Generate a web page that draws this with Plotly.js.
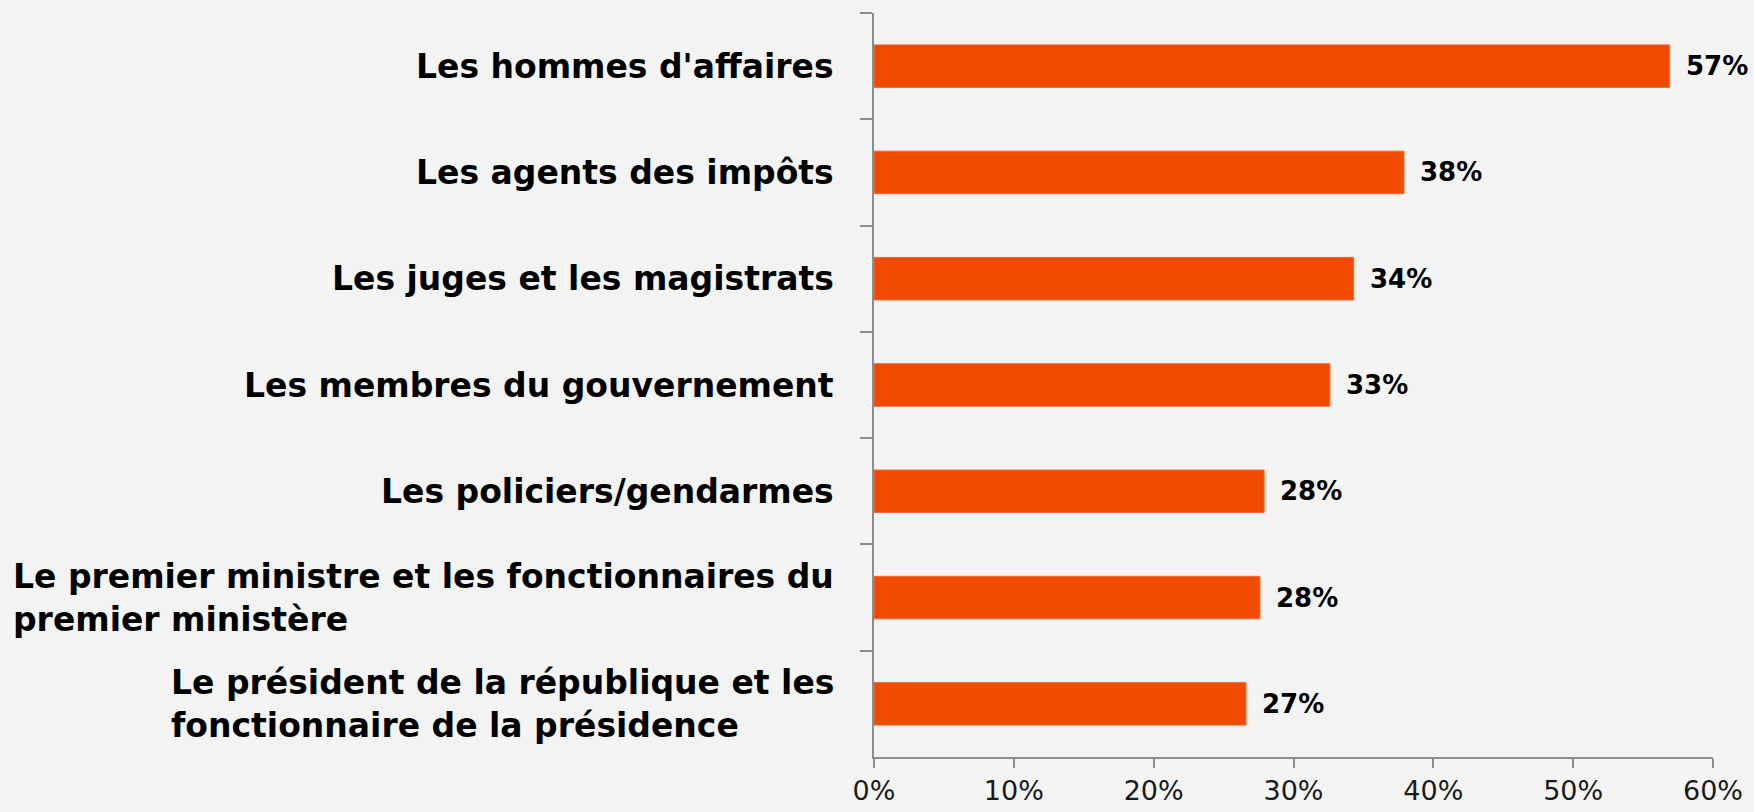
<!DOCTYPE html>
<html>
<head>
<meta charset="utf-8">
<script src="https://cdn.plot.ly/plotly-3.0.1.min.js"></script>
<style>
  html, body { margin: 0; padding: 0; background: #f3f3f3; }
  #chart { width: 1754px; height: 812px; }
</style>
</head>
<body>
<div id="chart"></div>
<script>
// Categories (top to bottom)
const categories = [
  "Les hommes d'affaires",
  "Les agents des impôts",
  "Les juges et les magistrats",
  "Les membres du gouvernement",
  "Les policiers/gendarmes",
  "Le premier ministre et les fonctionnaires du<br>premier ministère",
  "Le président de la république et les<br>fonctionnaire de la présidence"
];
// Values (share, 0-1)
const values = [0.569, 0.379, 0.343, 0.326, 0.279, 0.276, 0.266];
const valueLabels = ["57%", "38%", "34%", "33%", "28%", "28%", "27%"];
const xTickVals = [0, 0.1, 0.2, 0.3, 0.4, 0.5, 0.6];
const xTickText = ["0%", "10%", "20%", "30%", "40%", "50%", "60%"];

const catKeys = categories.map((c, i) => "c" + i);

const trace = {
  type: "bar",
  orientation: "h",
  x: values,
  y: catKeys,
  marker: { color: "#ef4a00", line: { color: "#f26a33", width: 1 } },
  hoverinfo: "skip"
};

const annotations = [];
categories.forEach((c, i) => {
  annotations.push({
    xref: "paper", yref: "y",
    x: 0, y: catKeys[i],
    xanchor: "right", yanchor: "middle",
    xshift: -38,
    align: "left",
    showarrow: false,
    text: "<b>" + c.replace("<br>", "</b><br><b>") + "</b>",
    font: { family: "DejaVu Sans", size: 33, color: "#000000" }
  });
  annotations.push({
    xref: "x", yref: "y",
    x: values[i], y: catKeys[i],
    xanchor: "left", yanchor: "middle",
    xshift: 14,
    showarrow: false,
    text: "<b>" + valueLabels[i] + "</b>",
    font: { family: "DejaVu Sans", size: 26, color: "#000000" }
  });
});

const layout = {
  width: 1754,
  height: 812,
  paper_bgcolor: "#f3f3f3",
  plot_bgcolor: "rgba(0,0,0,0)",
  margin: { l: 874, r: 41, t: 13, b: 55 },
  showlegend: false,
  bargap: 0.6,
  xaxis: {
    range: [0, 0.6],
    tickvals: xTickVals,
    ticktext: xTickText,
    showgrid: false,
    zeroline: false,
    showline: true,
    linecolor: "#8c8c8c",
    linewidth: 2,
    ticks: "outside",
    ticklen: 9,
    tickwidth: 2,
    tickcolor: "#8c8c8c",
    ticklabelstandoff: 0,
    tickfont: { family: "DejaVu Sans", size: 27, color: "#1a1a1a" },
    fixedrange: true
  },
  yaxis: {
    type: "category",
    categoryorder: "array",
    categoryarray: catKeys,
    autorange: "reversed",
    showticklabels: false,
    showgrid: false,
    zeroline: false,
    showline: true,
    linecolor: "#8c8c8c",
    linewidth: 2,
    ticks: "outside",
    tickson: "boundaries",
    ticklen: 12,
    tickwidth: 2,
    tickcolor: "#8c8c8c",
    fixedrange: true
  },
  annotations: annotations
};

Plotly.newPlot("chart", [trace], layout, { displayModeBar: false, staticPlot: true });
</script>
</body>
</html>
